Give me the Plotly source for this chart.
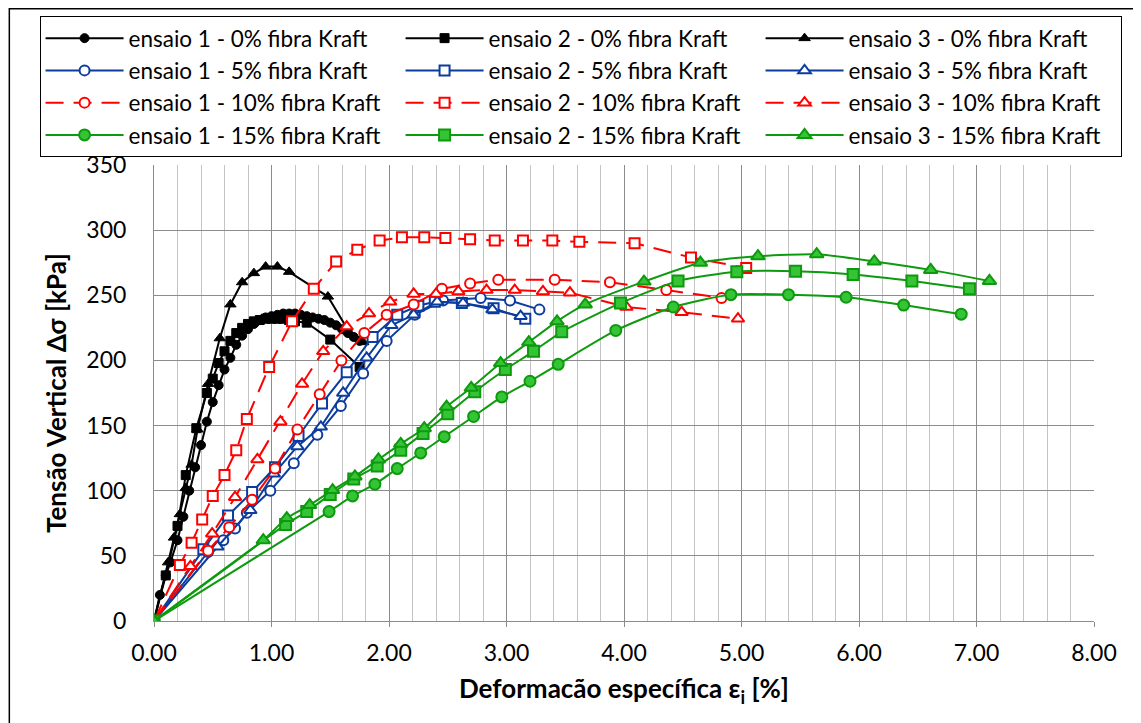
import plotly.graph_objects as go

# ---------------- data (deformation %, stress kPa) ----------------
# 0% fibra Kraft
e1_0_x = [0, 0.05, 0.10, 0.14, 0.20, 0.25, 0.30, 0.35, 0.40, 0.45, 0.50, 0.55, 0.60, 0.65, 0.70, 0.75,
          0.80, 0.85, 0.90, 0.95, 1.00, 1.05, 1.10, 1.15, 1.20, 1.25, 1.30, 1.35, 1.40, 1.45, 1.50, 1.55,
          1.60, 1.65, 1.70, 1.75]
e1_0_y = [0, 20, 35, 45, 62, 80, 100, 118, 135, 153, 168, 181, 193, 202, 212, 219,
          224, 228, 231, 233, 234, 235, 236, 236, 236, 235, 234, 233, 232, 231, 229, 227,
          224, 221, 218, 215]
e2_0_x = [0, 0.10, 0.20, 0.27, 0.36, 0.45, 0.50, 0.55, 0.60, 0.65, 0.70, 0.75, 0.80, 0.85, 0.90, 0.95,
          1.00, 1.05, 1.10, 1.15, 1.20, 1.30, 1.50, 1.75]
e2_0_y = [0, 35, 73, 112, 148, 175, 186, 198, 207, 215, 221, 225, 228, 230, 231, 232,
          232, 232, 232, 231, 230, 229, 216, 195]
e3_0_x = [0, 0.12, 0.17, 0.22, 0.27, 0.32, 0.37, 0.46, 0.56, 0.65, 0.75, 0.85, 0.95, 1.05, 1.15, 1.48, 1.64, 1.78]
e3_0_y = [0, 45, 64, 82, 102, 120, 147, 182, 217, 243, 260, 267, 272, 272, 268, 249, 225, 214]

# 5% fibra Kraft
e1_5_x = [0, 0.46, 0.59, 0.69, 0.79, 0.99, 1.19, 1.39, 1.59, 1.78, 1.98, 2.22, 2.46, 2.78, 3.03, 3.28]
e1_5_y = [0, 53, 62, 71, 83, 100, 121, 143, 165, 190, 215, 235, 246, 248, 246, 239]
e2_5_x = [0, 0.42, 0.63, 0.835, 1.03, 1.23, 1.43, 1.64, 1.86, 2.07, 2.25, 2.39, 2.62, 2.89, 3.16]
e2_5_y = [0, 55, 81, 99, 118, 142, 167, 191, 218, 235, 242, 245, 244, 240, 232]
e3_5_x = [0, 0.54, 0.82, 1.02, 1.22, 1.42, 1.61, 1.81, 2.02, 2.21, 2.41, 2.63, 2.88, 3.12]
e3_5_y = [0, 57, 85, 113, 134, 149, 175, 202, 227, 235, 245, 244, 239, 234]

# 10% fibra Kraft
e1_10_x = [0, 0.46, 0.64, 0.835, 1.03, 1.22, 1.41, 1.595, 1.79, 1.98, 2.21, 2.45, 2.69, 2.93, 3.41, 3.88, 4.36, 4.83]
e1_10_y = [0, 54, 72, 93, 117, 147, 174, 200, 221, 235, 243, 255, 259, 262, 262, 260, 254, 248]
e2_10_x = [0, 0.22, 0.32, 0.41, 0.50, 0.60, 0.70, 0.79, 0.98, 1.175, 1.36, 1.55, 1.73, 1.92, 2.11, 2.30,
           2.48, 2.69, 2.90, 3.14, 3.39, 3.62, 4.09, 4.57, 5.04]
e2_10_y = [0, 43, 60, 78, 96, 112, 131, 155, 195, 230, 255, 276, 285, 292, 294.5, 294.5,
           294, 293, 292, 292, 292, 291, 290, 279, 271]
e3_10_x = [0, 0.31, 0.495, 0.69, 0.88, 1.076, 1.26, 1.44, 1.64, 1.83, 2.01, 2.21, 2.40, 2.59, 2.83, 3.07,
           3.31, 3.54, 4.02, 4.49, 4.97]
e3_10_y = [0, 42, 67, 95, 124, 153, 182, 207, 226, 236, 245, 251, 251, 253, 254, 254,
           253, 252, 241, 237, 232]

# 15% fibra Kraft
e1_15_x = [0, 1.49, 1.69, 1.88, 2.07, 2.27, 2.47, 2.72, 2.96, 3.20, 3.44, 3.93, 4.42, 4.91, 5.40, 5.89, 6.38, 6.87]
e1_15_y = [0, 84, 96, 105, 117, 129, 141.5, 157, 172, 184, 197, 223, 241, 250.5, 250.5, 248.5, 242.5, 235.5]
e2_15_x = [0, 1.12, 1.30, 1.50, 1.70, 1.90, 2.10, 2.29, 2.50, 2.73, 2.99, 3.23, 3.47, 3.97, 4.46, 4.96,
           5.46, 5.95, 6.45, 6.94]
e2_15_y = [0, 74, 84, 97, 109, 119, 131, 144, 159, 176, 193, 207, 222, 244, 261, 268,
           268.5, 266, 261, 255]
e3_15_x = [0, 0.93, 1.13, 1.325, 1.52, 1.71, 1.91, 2.10, 2.30, 2.49, 2.70, 2.95, 3.19, 3.43, 3.67, 4.17,
           4.65, 5.14, 5.64, 6.13, 6.61, 7.11]
e3_15_y = [0, 62, 79, 89, 100.5, 111, 124, 136, 148, 164.5, 179, 198, 214, 230, 243, 260.5,
           275, 280, 281.5, 276, 269.5, 261]

names = [
    "ensaio 1 - 0% fibra Kraft", "ensaio 2 - 0% fibra Kraft", "ensaio 3 - 0% fibra Kraft",
    "ensaio 1 - 5% fibra Kraft", "ensaio 2 - 5% fibra Kraft", "ensaio 3 - 5% fibra Kraft",
    "ensaio 1 - 10% fibra Kraft", "ensaio 2 - 10% fibra Kraft", "ensaio 3 - 10% fibra Kraft",
    "ensaio 1 - 15% fibra Kraft", "ensaio 2 - 15% fibra Kraft", "ensaio 3 - 15% fibra Kraft",
]
xs = [e1_0_x, e2_0_x, e3_0_x, e1_5_x, e2_5_x, e3_5_x, e1_10_x, e2_10_x, e3_10_x, e1_15_x, e2_15_x, e3_15_x]
ys = [e1_0_y, e2_0_y, e3_0_y, e1_5_y, e2_5_y, e3_5_y, e1_10_y, e2_10_y, e3_10_y, e1_15_y, e2_15_y, e3_15_y]

BLACK = "#000000"
BLUE = "#0B3C9E"
RED = "#FF0000"
GREEN_L = "#0E9A0E"
GREEN_F = "#35C435"

symbols = ["circle", "square", "triangle-up"]
sizes = [10, 10, 11]

fig = go.Figure()
for i, (nm, x, y) in enumerate(zip(names, xs, ys)):
    group = i // 3
    sym = symbols[i % 3]
    sz = sizes[i % 3]
    if group == 0:
        line = dict(color=BLACK, width=2)
        marker = dict(symbol=sym, size=sz - 1, color=BLACK, line=dict(color=BLACK, width=1))
    elif group == 1:
        line = dict(color=BLUE, width=2)
        marker = dict(symbol=sym, size=sz, color="white", line=dict(color=BLUE, width=2))
    elif group == 2:
        line = dict(color=RED, width=2, dash="18px,10px")
        marker = dict(symbol=sym, size=sz, color="white", line=dict(color=RED, width=2))
    else:
        line = dict(color=GREEN_L, width=2, shape="spline", smoothing=0.6)
        marker = dict(symbol=sym, size=sz + 1, color=GREEN_F, line=dict(color=GREEN_L, width=2))
    fig.add_trace(go.Scatter(x=x, y=y, name=nm, mode="lines+markers", line=line, marker=marker))

FONT = "Lato, Open Sans, sans-serif"
OFF = 8  # page body margin
W, H = 1133, 715
L, T = 153.5 - OFF, 165 - OFF
R = W - (1094 - OFF)
B = H - (621 - OFF)
pw, ph = W - L - R, H - T - B


def px2x(page_px):
    return (page_px - OFF - L) / pw


def py2y(page_py):
    return 1 + (T - (page_py - OFF)) / ph


fig.update_layout(
    width=W, height=H,
    margin=dict(l=L, r=R, t=T, b=B, autoexpand=False),
    paper_bgcolor="white", plot_bgcolor="white",
    font=dict(family=FONT, color="black", size=20),
    showlegend=True,
    legend=dict(
        orientation="h", x=px2x(39), y=py2y(16), xanchor="left", yanchor="top",
        entrywidth=267, entrywidthmode="pixels", itemwidth=78,
        bordercolor="black", borderwidth=1, bgcolor="white",
        font=dict(family=FONT, size=22.5, color="black"),
        tracegroupgap=0, itemclick=False,
    ),
    xaxis=dict(
        range=[0, 8], dtick=1, tick0=0, tickformat=".2f",
        showgrid=True, gridcolor="#8C8C8C", gridwidth=1,
        minor=dict(dtick=0.2, showgrid=True, gridcolor="#C4C4C4", gridwidth=1),
        showline=True, linecolor="#8C8C8C", linewidth=1, mirror=False,
        ticks="outside", ticklen=5, tickcolor="#8C8C8C",
        ticklabelstandoff=6,
        tickfont=dict(family=FONT, size=23, color="black"),
        zeroline=False,
        title=dict(text="<b>Deformacão específica ε<sub>i</sub> [%]</b>",
                   font=dict(family=FONT, size=26, color="black"), standoff=15),
    ),
    yaxis=dict(
        range=[0, 350], dtick=50, tick0=0,
        showgrid=True, gridcolor="#8C8C8C", gridwidth=1,
        showline=True, linecolor="#8C8C8C", linewidth=1,
        ticks="", ticklabelstandoff=22,
        tickfont=dict(family=FONT, size=23, color="black"),
        zeroline=False,
        title=dict(text="<b>Tensão Vertical Δσ [kPa]</b>",
                   font=dict(family=FONT, size=26, color="black"), standoff=12),
    ),
    shapes=[
        dict(type="rect", xref="paper", yref="paper",
             x0=px2x(OFF + 0.75), x1=px2x(1200), y0=py2y(800), y1=py2y(OFF + 0.75),
             line=dict(color="black", width=1.5), fillcolor="rgba(0,0,0,0)", layer="below"),
    ],
)

fig.write_html("out.html")
